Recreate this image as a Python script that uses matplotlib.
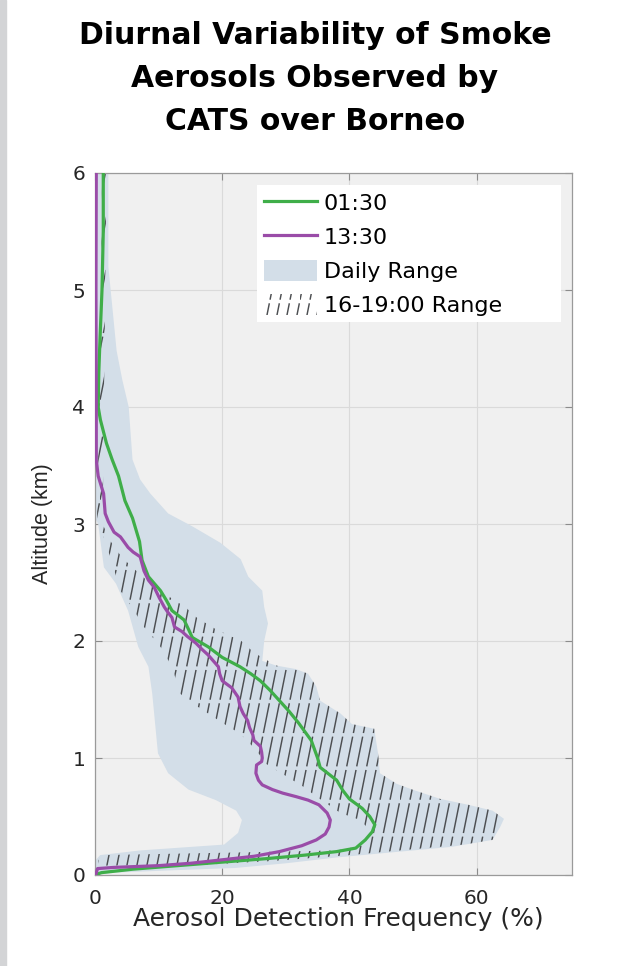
import warnings
import numpy as np
import matplotlib
matplotlib.use("Agg")
import matplotlib.pyplot as plt
import matplotlib.hatch as mhatch
from matplotlib.path import Path
from matplotlib.patches import Patch, Rectangle
from matplotlib.lines import Line2D

warnings.filterwarnings("ignore")

# ---- data (altitude km, frequency %) ----
alt_0130 = [0.0, 0.02, 0.05, 0.08, 0.11, 0.14, 0.17, 0.20, 0.23, 0.30, 0.37, 0.43, 0.50, 0.57,
            0.65, 0.72, 0.81, 0.92, 1.00, 1.15, 1.30, 1.40, 1.49, 1.58, 1.66, 1.72, 1.78, 1.86,
            1.95, 2.03, 2.10, 2.18, 2.26, 2.35, 2.43, 2.55, 2.69, 2.85, 3.05, 3.20, 3.41, 3.55,
            3.69, 3.89, 4.00, 4.30, 4.60, 5.00, 5.50, 6.00]
freq_0130 = [0.0, 1.0, 6.0, 13.0, 20.0, 27.0, 33.0, 38.0, 41.0, 42.5, 43.6, 44.0, 43.2, 42.0,
             40.0, 39.0, 38.0, 35.4, 35.0, 34.0, 32.0, 30.5, 29.0, 27.5, 26.0, 24.5, 22.8, 20.0,
             17.8, 15.3, 14.7, 14.0, 12.1, 11.2, 10.3, 8.4, 7.4, 7.0, 5.9, 4.7, 3.7, 2.7,
             1.8, 0.85, 0.5, 0.6, 0.8, 1.1, 1.3, 1.3]

alt_1330 = [0.0, 0.055, 0.065, 0.08, 0.10, 0.13, 0.16, 0.20, 0.25, 0.30, 0.35, 0.41, 0.47, 0.53,
            0.60, 0.64, 0.67, 0.70, 0.73, 0.77, 0.81, 0.87, 0.94, 0.97, 1.00, 1.05, 1.10, 1.15,
            1.20, 1.26, 1.32, 1.38, 1.44, 1.52, 1.60, 1.66, 1.72, 1.78, 1.83, 1.88, 1.93, 1.98,
            2.04, 2.08, 2.12, 2.20, 2.25, 2.29, 2.37, 2.46, 2.52, 2.60, 2.72, 2.76, 2.80, 2.89,
            2.93, 3.02, 3.09, 3.26, 3.41, 3.55, 4.00, 5.00, 6.00]
freq_1330 = [0.1, 0.4, 3.0, 10.0, 15.0, 20.0, 25.0, 29.0, 32.5, 34.8, 36.2, 36.8, 37.0, 36.5,
             35.2, 33.5, 31.6, 29.5, 27.9, 26.3, 25.7, 25.3, 25.4, 26.2, 26.3, 26.2, 26.0, 25.0,
             24.8, 24.3, 24.0, 23.3, 22.8, 22.5, 21.5, 20.0, 19.6, 19.4, 18.6, 17.8, 16.8, 15.9,
             14.5, 13.7, 12.5, 12.1, 11.4, 10.9, 10.1, 9.3, 8.4, 7.7, 7.1, 6.0, 5.2, 4.0,
             3.0, 2.1, 1.6, 1.35, 0.5, 0.2, 0.2, 0.15, 0.2]

# daily range envelope
daily_lo_alt = [0.0, 0.12, 0.17, 0.21, 0.26, 0.36, 0.47, 0.55, 0.64, 0.73, 0.87, 1.04, 1.38,
                1.55, 1.78, 1.95, 2.26, 2.49, 2.63, 3.0, 3.05, 6.0]
daily_lo = [0.0, 0.0, 0.8, 7.1, 20.3, 22.5, 23.1, 22.2, 19.0, 14.7, 11.5, 9.9, 9.3,
            9.0, 8.4, 6.8, 5.2, 3.3, 1.4, 0.5, 0.0, 0.0]
daily_hi_alt = [0.0, 0.02, 0.04, 0.06, 0.10, 0.15, 0.20, 0.24, 0.30, 0.41, 0.48, 0.55, 0.60,
                0.65, 0.73, 0.78, 0.87, 1.04, 1.25, 1.29, 1.38, 1.49, 1.61, 1.72, 1.76, 1.79,
                1.83, 2.0, 2.15, 2.29, 2.43, 2.55, 2.7, 2.84, 2.98, 3.09, 3.26, 3.38, 3.55,
                4.0, 4.23, 4.48, 5.2, 6.0]
daily_hi = [0.0, 3.0, 12.0, 22.0, 30.0, 38.0, 48.0, 56.0, 62.5, 63.7, 64.3, 62.5, 58.7,
            54.3, 49.9, 47.4, 44.8, 44.5, 43.9, 40.4, 38.6, 35.4, 34.8, 33.5, 31.6, 28.5,
            26.3, 26.6, 27.2, 26.6, 26.3, 24.1, 22.9, 19.7, 15.3, 11.5, 8.7, 7.1, 5.9,
            5.3, 4.3, 3.4, 2.1, 2.1]

# 16-19:00 range envelope
late_lo_alt = [0.08, 0.12, 0.17, 0.19, 0.21, 0.26, 0.36, 0.47, 0.53, 0.67, 0.75, 0.95, 1.07,
               1.21, 1.27, 1.38, 1.49, 1.55, 1.78, 1.95, 2.12, 2.29, 2.43, 2.72, 2.97, 3.0,
               5.0, 6.0]
late_lo = [0.5, 0.5, 1.0, 20.0, 38.0, 43.0, 43.6, 41.7, 38.6, 34.8, 32.9, 26.9, 25.3,
           22.8, 20.9, 17.8, 14.7, 13.4, 12.1, 10.3, 7.7, 5.8, 4.0, 2.4, 0.8, 0.3,
           1.0, 1.1]
late_hi_alt = [0.08, 0.09, 0.12, 0.17, 0.22, 0.26, 0.30, 0.41, 0.48, 0.55, 0.60, 0.65, 0.73,
               0.78, 0.87, 1.04, 1.25, 1.29, 1.38, 1.49, 1.61, 1.72, 1.76, 1.79, 1.9, 2.0,
               2.1, 2.2, 2.3, 2.4, 2.5, 2.6, 2.7, 2.8, 2.9, 3.0, 5.0, 6.0]
late_hi = [1.0, 18.0, 28.0, 40.0, 50.0, 58.0, 62.5, 63.7, 64.3, 62.5, 58.7, 54.3, 49.9,
           47.4, 44.8, 44.5, 43.9, 40.4, 38.6, 35.4, 34.8, 33.5, 31.6, 28.5, 25.0, 23.0,
           19.0, 16.0, 14.0, 11.0, 8.5, 6.5, 4.5, 3.0, 2.0, 1.2, 1.6, 1.8]

xticks = [0, 20, 40, 60]
yticks = [0, 1, 2, 3, 4, 5, 6]

green = "#3fae49"
purple = "#9a4ca8"
shade = "#d3dee8"
hatch_col = "#4d4f52"


# steep dashed hatch, closer to the matlab hatchfill than the 45 deg '/'
class SteepHatch(mhatch.HatchPatternBase):
    def __init__(self, hatch, density):
        self.num_lines = 10 if "!" in hatch else 0
        self.shift = 2
        self.ndash = 3
        self.num_vertices = self.num_lines * self.ndash * 2 * 2

    def set_vertices_and_codes(self, vertices, codes):
        n = self.num_lines
        k = 0
        for i in range(n):
            for j in range(self.ndash):
                t0 = j / self.ndash + 0.01
                t1 = (j + 1) / self.ndash - 0.04
                for off in (0.0, -1.0):
                    vertices[k] = [(i + self.shift * t0) / n + off, t0]
                    vertices[k + 1] = [(i + self.shift * t1) / n + off, t1]
                    codes[k] = Path.MOVETO
                    codes[k + 1] = Path.LINETO
                    k += 2


mhatch._hatch_types.append(SteepHatch)
plt.rcParams["hatch.linewidth"] = 1.05
plt.rcParams["font.family"] = "DejaVu Sans"

fig = plt.figure(figsize=(6.3, 9.66), dpi=100)
fig.patches.append(Rectangle((0, 0), 6 / 630, 1, transform=fig.transFigure,
                             color="#d3d4d6", zorder=0))

ax = fig.add_axes([95 / 630, 91 / 966, 477 / 630, 702 / 966])
ax.set_facecolor("#f0f0f0")
ax.set_axisbelow(True)
ax.grid(True, color="#dadada", lw=0.8)

ax.fill(np.concatenate([daily_lo, daily_hi[::-1]]),
        np.concatenate([daily_lo_alt, daily_hi_alt[::-1]]),
        color=shade, lw=0, zorder=1)
ax.fill(np.concatenate([late_lo, late_hi[::-1]]),
        np.concatenate([late_lo_alt, late_hi_alt[::-1]]),
        facecolor="none", edgecolor=hatch_col, hatch="!", lw=0, zorder=2)

ax.plot(freq_0130, alt_0130, color=green, lw=2.3, zorder=3)
ax.plot(freq_1330, alt_1330, color=purple, lw=2.3, zorder=3)

ax.set_xlim(0, 75)
ax.set_ylim(0, 6)
ax.set_xticks(xticks)
ax.set_yticks(yticks)
ax.tick_params(direction="in", top=True, right=True, length=5, color="#8c8c8c",
               labelsize=14.5, labelcolor="#262626")
ax.tick_params(axis="x", pad=10)
ax.tick_params(axis="y", pad=7)
for s in ax.spines.values():
    s.set_color("#9a9a9a")
    s.set_linewidth(0.9)

ax.set_xlabel("Aerosol Detection Frequency (%)", fontsize=18, color="#262626")
ax.xaxis.set_label_coords(0.51, -0.046)
ax.set_ylabel("Altitude (km)", fontsize=15.5, family="Liberation Sans", color="#262626")
ax.yaxis.set_label_coords(-0.088, 0.5)

handles = [Line2D([], [], color=green, lw=2.3),
           Line2D([], [], color=purple, lw=2.3),
           Patch(facecolor=shade, lw=0),
           Patch(facecolor="none", edgecolor=hatch_col, hatch="!", lw=0)]
labels = ["01:30", "13:30", "Daily Range", "16-19:00 Range"]
leg = ax.legend(handles, labels, loc="upper left", mode="expand",
                bbox_to_anchor=(0.340, 0.5, 0.637, 0.483),
                borderaxespad=0, fontsize=16, frameon=True, fancybox=False,
                framealpha=1, edgecolor="white", handlelength=2.4, handleheight=1.1,
                handletextpad=0.3, labelspacing=0.53, borderpad=0.3)
leg.get_frame().set_linewidth(0)

fig.text(0.5, 0.978, "Diurnal Variability of Smoke\nAerosols Observed by\nCATS over Borneo",
         ha="center", va="top", fontsize=21.5, fontweight="bold", linespacing=1.6)

fig.savefig("out.png", dpi=100)
